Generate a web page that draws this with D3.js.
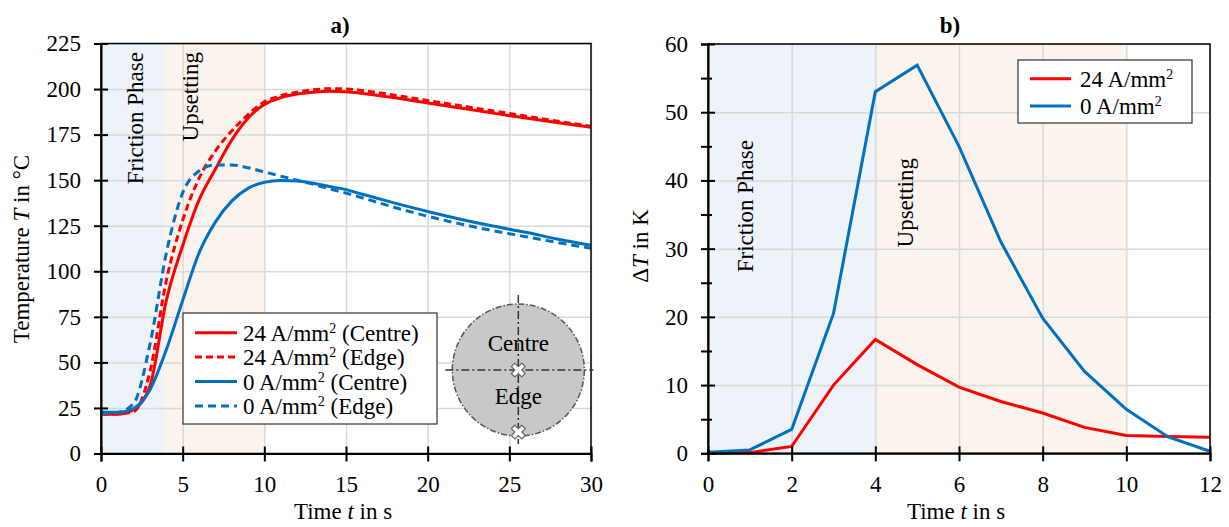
<!DOCTYPE html>
<html>
<head>
<meta charset="utf-8">
<script src="https://cdn.jsdelivr.net/npm/d3@7"></script>
<style>
  body { margin: 0; background: #fff; }
  svg, svg * { font-family: "Liberation Serif", "DejaVu Serif", serif !important; }
  svg text { fill: #000; }
</style>
</head>
<body>
<script>
// ---- data, panel a) temperature over time
const timeA = [0, 1, 2, 3, 4, 5, 6, 7, 8, 9, 10, 11, 12, 13, 14, 15, 16, 18, 20, 22, 24, 26, 28, 30];
const centre24 = [21.5, 21.5, 24, 37, 84, 114, 139, 156, 172, 184, 191.5, 195.3, 197.3, 198.3, 198.8, 198.5, 197.6, 195.2, 192.3, 189.6, 186.8, 184.1, 181.5, 179];
const edge24   = [21.5, 21.8, 23, 45, 95, 128, 151, 166, 177, 186, 193, 196.3, 198.3, 199.6, 200.2, 200.1, 199.2, 196.6, 193.7, 190.9, 188, 185.2, 182.3, 179.6];
const centre0  = [22.6, 22.6, 24.8, 35, 57, 84, 110, 127, 138.5, 145.5, 148.8, 149.8, 149.6, 148.3, 146.5, 144.8, 142.3, 137.4, 132.8, 128.6, 124.8, 121.4, 117.6, 114.3];
const edge0    = [22, 22.5, 27.5, 60, 110, 143, 155, 158.3, 158.3, 156.8, 154.5, 152.2, 150, 147.7, 145.2, 142.9, 140.3, 135, 130.2, 126, 122.3, 119, 115.7, 112.6];
const ticksXA = [0, 5, 10, 15, 20, 25, 30];
const ticksYA = [0, 25, 50, 75, 100, 125, 150, 175, 200, 225];
const phasesA = [[0, 3.9, "Friction Phase"], [3.9, 10, "Upsetting"]];
const legendA = ["24 A/mm|2| (Centre)", "24 A/mm|2| (Edge)", "0 A/mm|2| (Centre)", "0 A/mm|2| (Edge)"];

// ---- data, panel b) temperature difference
const timeB = [0, 1, 2, 3, 4, 5, 6, 7, 8, 9, 10, 11, 12];
const delta24 = [0, 0.1, 1.0, 10, 16.7, 13, 9.7, 7.6, 5.9, 3.8, 2.6, 2.45, 2.35];
const delta0  = [0.15, 0.5, 3.5, 20.5, 53, 56.9, 45, 31, 19.8, 12, 6.45, 2.4, 0.3];
const ticksXB = [0, 2, 4, 6, 8, 10, 12];
const ticksYB = [0, 10, 20, 30, 40, 50, 60];
const minorYB = [5, 15, 25, 35, 45, 55];
const phasesB = [[0, 4, "Friction Phase"], [4, 10, "Upsetting"]];
const legendB = ["24 A/mm|2|", "0 A/mm|2|"];

const RED = "#ff0000", BLUE = "#0070c0";
const FS = 23;
const FONT = "Liberation Serif";

const svg = d3.select("body").append("svg").attr("width", 1229).attr("height", 527)
  .attr("font-family", FONT);

// text with superscript parts marked with |..|
function richText(sel, str) {
  str.split("|").forEach((part, i) => {
    if (i % 2 === 1) {
      sel.append("tspan").attr("dy", -8).attr("font-size", 14).text(part);
    } else {
      const t = sel.append("tspan").text(part);
      if (i > 0) t.attr("dy", 8);
    }
  });
}

function panel(cfg) {
  const x = cfg.x, y = cfg.y;
  const [x0, x1] = x.range(), [y0, y1] = y.range();
  const g = svg.append("g");

  // phase bands
  g.selectAll("rect.band").data(cfg.phases).enter().append("rect")
    .attr("x", d => x(d[0])).attr("width", d => x(d[1]) - x(d[0]))
    .attr("y", y1).attr("height", y0 - y1)
    .attr("fill", (d, i) => i === 0 ? "#eef2f9" : "#fbf3ed");

  // grid
  g.append("g").attr("transform", "translate(0," + y0 + ")")
    .call(d3.axisBottom(x).tickValues(cfg.ticksX).tickSize(-(y0 - y1)).tickFormat(""))
    .call(s => s.select(".domain").remove())
    .selectAll("line").attr("stroke", "#d9d9d9").attr("stroke-width", 1.5);
  g.append("g").attr("transform", "translate(" + x0 + ",0)")
    .call(d3.axisLeft(y).tickValues(cfg.ticksY).tickSize(-(x1 - x0)).tickFormat(""))
    .call(s => s.select(".domain").remove())
    .selectAll("line").attr("stroke", "#d9d9d9").attr("stroke-width", 1.5);

  // phase labels
  cfg.phases.forEach((p, i) => {
    const pos = cfg.phaseLabelPos[i];
    g.append("text")
      .attr("transform", "translate(" + pos[0] + "," + pos[1] + ") rotate(-90)")
      .attr("text-anchor", "end").attr("font-size", FS).text(p[2]);
  });

  // series
  cfg.series.forEach(s => {
    const line = d3.line().x((d, i) => x(cfg.time[i])).y(d => y(d)).curve(cfg.curve);
    g.append("path").datum(s.values)
      .attr("d", line).attr("fill", "none")
      .attr("stroke", s.color).attr("stroke-width", 3)
      .attr("stroke-dasharray", s.dash || null);
  });

  // frame
  g.append("rect").attr("x", x0).attr("y", y1).attr("width", x1 - x0).attr("height", y0 - y1)
    .attr("fill", "none").attr("stroke", "#000").attr("stroke-width", 1.5);

  // axes
  const ax = g.append("g").attr("transform", "translate(0," + y0 + ")")
    .call(d3.axisBottom(x).tickValues(cfg.ticksX).tickSizeOuter(0).tickSize(8).tickPadding(14));
  ax.selectAll(".tick line").attr("y1", -7);
  const ay = g.append("g").attr("transform", "translate(" + x0 + ",0)")
    .call(d3.axisLeft(y).tickValues(cfg.ticksY).tickSizeOuter(0).tickSize(7).tickPadding(13));
  ay.selectAll(".tick line").attr("x1", 7);
  if (cfg.minorY) {
    g.append("g").attr("transform", "translate(" + x0 + ",0)")
      .call(d3.axisLeft(y).tickValues(cfg.minorY).tickSizeOuter(0).tickSize(7).tickFormat(""))
      .call(s => s.select(".domain").remove())
      .selectAll(".tick line").attr("x1", 4).attr("stroke-width", 2);
  }
  [ax, ay].forEach(a => {
    a.attr("font-family", FONT);
    a.select(".domain").attr("stroke-width", 2);
    a.selectAll(".tick line").attr("stroke-width", 2);
    a.selectAll("text").attr("font-size", FS);
  });

  // titles
  g.append("text").attr("x", cfg.title[1]).attr("y", 33).attr("text-anchor", "middle")
    .attr("font-size", FS).attr("font-weight", "bold").text(cfg.title[0]);
  const xt = g.append("text").attr("x", (x0 + x1) / 2 - 3).attr("y", 519)
    .attr("text-anchor", "middle").attr("font-size", FS);
  xt.append("tspan").text("Time ");
  xt.append("tspan").attr("font-style", "italic").text("t");
  xt.append("tspan").text(" in s");
  const yt = g.append("text")
    .attr("transform", "translate(" + cfg.yTitle[0] + "," + cfg.yTitle[1] + ") rotate(-90)")
    .attr("text-anchor", "middle").attr("font-size", FS);
  yt.append("tspan").text(cfg.yTitle[2]);
  yt.append("tspan").attr("font-style", "italic").text("T");
  yt.append("tspan").text(cfg.yTitle[3]);

  // legend
  const L = cfg.legend;
  const lg = g.append("g");
  lg.append("rect").attr("x", L.box[0]).attr("y", L.box[1]).attr("width", L.box[2]).attr("height", L.box[3])
    .attr("fill", "#fff").attr("stroke", "#333").attr("stroke-width", 1.2);
  cfg.series.forEach((s, i) => {
    const ry = L.rowY + i * L.rowH;
    lg.append("line").attr("x1", L.lineX[0]).attr("x2", L.lineX[1]).attr("y1", ry).attr("y2", ry)
      .attr("stroke", s.color).attr("stroke-width", 3).attr("stroke-dasharray", s.dash || null);
    richText(lg.append("text").attr("x", L.textX).attr("y", ry + 8).attr("font-size", FS), L.labels[i]);
  });
  return g;
}

const xA = d3.scaleLinear().domain([0, 30]).range([101, 591]);
const yA = d3.scaleLinear().domain([0, 225]).range([453.5, 43.5]);
const gA = panel({
  x: xA, y: yA, time: timeA, curve: d3.curveMonotoneX,
  ticksX: ticksXA, ticksY: ticksYA, phases: phasesA,
  phaseLabelPos: [[143, 52], [198, 52]],
  series: [
    { values: centre24, color: RED },
    { values: edge24, color: RED, dash: "7,4" },
    { values: centre0, color: BLUE },
    { values: edge0, color: BLUE, dash: "8,5" }
  ],
  title: ["a)", 340],
  yTitle: [29, 249, "Temperature ", " in °C"],
  legend: { box: [183, 313, 254, 111], rowY: 332.7, rowH: 24.4, lineX: [195, 237], textX: 243, labels: legendA }
});

// inset: specimen cross-section with measuring points
const ins = gA.append("g");
const cx = xA(25.55), cy = yA(45.8);
ins.append("circle").attr("cx", cx).attr("cy", cy).attr("r", 66)
  .attr("fill", "#c8c8c8").attr("stroke", "#555").attr("stroke-width", 1.5).attr("stroke-dasharray", "6,2,1.5,2");
ins.append("line").attr("x1", cx).attr("x2", cx).attr("y1", cy - 75).attr("y2", cy + 74)
  .attr("stroke", "#333").attr("stroke-width", 1.5).attr("stroke-dasharray", "8,3,2,3");
ins.append("line").attr("x1", cx - 73).attr("x2", cx + 75).attr("y1", cy).attr("y2", cy)
  .attr("stroke", "#333").attr("stroke-width", 1.5).attr("stroke-dasharray", "8,3,2,3");
ins.append("text").attr("x", cx).attr("y", cy - 19).attr("text-anchor", "middle").attr("font-size", FS).text("Centre");
ins.append("text").attr("x", cx).attr("y", cy + 34).attr("text-anchor", "middle").attr("font-size", FS).text("Edge");
[[cx, cy], [cx, cy + 62]].forEach(p => {
  ins.append("path").attr("d", d3.symbol(d3.symbolCross, 120)())
    .attr("transform", "translate(" + p[0] + "," + p[1] + ") rotate(45)")
    .attr("fill", "#fff").attr("stroke", "#666").attr("stroke-width", 1.2);
});

const xB = d3.scaleLinear().domain([0, 12]).range([708, 1210]);
const yB = d3.scaleLinear().domain([0, 60]).range([453.3, 44]);
panel({
  x: xB, y: yB, time: timeB, curve: d3.curveLinear,
  ticksX: ticksXB, ticksY: ticksYB, minorY: minorYB, phases: phasesB,
  phaseLabelPos: [[753, 140], [913, 158]],
  series: [
    { values: delta24, color: RED },
    { values: delta0, color: BLUE }
  ],
  title: ["b)", 950],
  yTitle: [648, 246, "Δ", " in K"],
  legend: { box: [1018, 60, 174, 63], rowY: 78.7, rowH: 27.3, lineX: [1030, 1071], textX: 1080, labels: legendB }
});
</script>
</body>
</html>
